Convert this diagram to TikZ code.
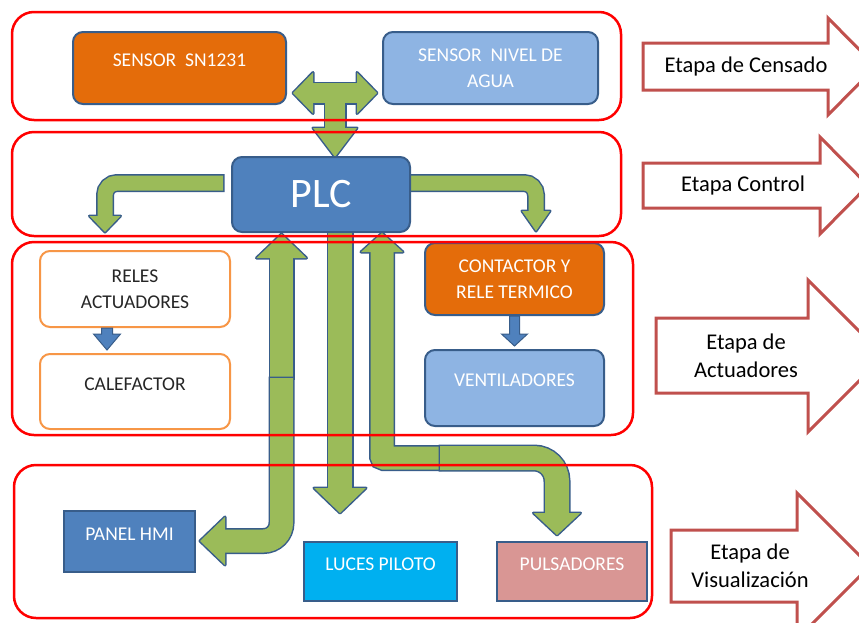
\documentclass[tikz,border=0pt]{standalone}
\usepackage{fontspec}
\setmainfont{Carlito}
\usepackage{tikz}
\usetikzlibrary{positioning, calc}
\definecolor{rojomarco}{RGB}{255,0,0}
\definecolor{rojoetapa}{RGB}{192,80,77}
\definecolor{azulborde}{RGB}{56,93,138}
\definecolor{azulplc}{RGB}{79,129,189}
\definecolor{azulclaro}{RGB}{142,180,227}
\definecolor{naranja}{RGB}{228,108,10}
\definecolor{naranjaclaro}{RGB}{247,150,70}
\definecolor{celeste}{RGB}{0,176,240}
\definecolor{rosa}{RGB}{217,150,148}
\definecolor{verde}{RGB}{155,187,89}

\begin{document}
\begin{tikzpicture}[x=1pt, y=-1pt,
  caja/.style={rectangle, rounded corners=10pt, draw=azulborde, line width=2pt, align=center, text=white, inner sep=0pt, font=\fontsize{19.5}{25.5}\selectfont},
  unalinea/.style={text height=13pt, text depth=16pt},
  cuadro/.style={caja, rounded corners=0pt},
  blanca/.style={caja, draw=naranjaclaro, fill=white, text=black!85},
  marco/.style={draw=rojomarco, line width=2.5pt, rounded corners=22pt},
  etapa/.style={draw=rojoetapa, fill=white, line width=3pt},
  etapatxt/.style={align=center, font=\fontsize{22.5}{28.5}\selectfont},
  fondo/.style={draw=azulborde, line width=#1pt+3pt, shorten <=-1.5pt},
  frente/.style={draw=verde, line width=#1pt},
  fondo-cabeza/.style={fill=azulborde, draw=azulborde, line width=3pt, line join=round},
  frente-cabeza/.style={fill=verde},
  flechaazul/.style={fill=azulplc, draw=azulborde, line width=1pt}
]
\fill[white] (0,0) rectangle (859,622);
\clip (0,0) rectangle (859,622);

% puntos de las flechas verdes
\coordinate (tIzq) at (293,93);
\coordinate (tDer) at (377,93);
\coordinate (tCruce) at (335,93);
\coordinate (tPunta) at (335,157);
\coordinate (bIni) at (223,183);
\coordinate (bPunta) at (105,232);
\coordinate (cIni) at (411,183);
\coordinate (cPunta) at (536,231);
\coordinate (eIni) at (340,225);
\coordinate (ePunta) at (340,513);
\coordinate (dCorte) at (281.5,378);
\coordinate (dArriba) at (281.5,234);
\coordinate (dPunta) at (200,541);
\coordinate (fCorte) at (440,458);
\coordinate (fArriba) at (382,233);
\coordinate (fPunta) at (557,535);

% flechas verdes: primero el borde, luego el relleno
\foreach \capa in {fondo,frente} {
  \draw[\capa=20] ([xshift=20pt]tIzq) -- ([xshift=-20pt]tDer);
  \draw[\capa=20] (tCruce) -- ([yshift=29pt]tPunta);
  \path[\capa-cabeza] (tIzq) -- ++(20,-20.5) -- ++(0,41) -- cycle;
  \path[\capa-cabeza] (tDer) -- ++(-20,-20.5) -- ++(0,41) -- cycle;
  \path[\capa-cabeza] (tPunta) -- ++(-22,-29) -- ++(44,0) -- cycle;
  \draw[\capa=15, rounded corners=12pt] (bIni) -- (bPunta |- bIni) -- ([yshift=16pt]bPunta);
  \path[\capa-cabeza] (bPunta) -- ++(-15.5,-16) -- ++(31,0) -- cycle;
  \draw[\capa=15, rounded corners=12pt] (cIni) -- (cPunta |- cIni) -- ([yshift=20pt]cPunta);
  \path[\capa-cabeza] (cPunta) -- ++(-14,-20) -- ++(28,0) -- cycle;
  \draw[\capa=24] (eIni) -- ([yshift=25pt]ePunta);
  \path[\capa-cabeza] (ePunta) -- ++(-26,-25) -- ++(52,0) -- cycle;
  \draw[\capa=23] (dCorte) -- ([yshift=-24pt]dArriba);
  \path[\capa-cabeza] (dArriba) -- ++(-25,24) -- ++(50,0) -- cycle;
  \draw[\capa=23, rounded corners=2pt] (fCorte) -- (fArriba |- fCorte) -- ([yshift=-19pt]fArriba);
  \path[\capa-cabeza] (fArriba) -- ++(-21,19) -- ++(42,0) -- cycle;
}
\foreach \capa in {fondo,frente} {
  \draw[\capa=23, rounded corners=18pt] (dCorte) -- (dCorte |- dPunta) -- ([xshift=25pt]dPunta);
  \path[\capa-cabeza] (dPunta) -- ++(25,-24) -- ++(0,48) -- cycle;
  \draw[\capa=24, rounded corners=23pt] (fCorte) -- (fPunta |- fCorte) -- ([yshift=22pt]fPunta);
  \path[\capa-cabeza] (fPunta) -- ++(-23.5,-22) -- ++(47,0) -- cycle;
}

% bloques
\node[caja, fill=naranja, unalinea, minimum width=213pt, minimum height=72pt] (sn) at (179.5,68) {SENSOR\ \ SN1231};
\node[caja, fill=azulclaro, minimum width=215pt, minimum height=72pt] (nivel) at (490.5,68) {SENSOR\ \ NIVEL DE\\AGUA};
\node[caja, fill=azulplc, minimum width=178pt, minimum height=75pt, font=\fontsize{42}{48}\selectfont] (plc) at (321,194.5) {PLC};
\node[blanca, minimum width=190pt, minimum height=76pt] (reles) at (135,289) {RELES\\ACTUADORES};
\node[blanca, unalinea, minimum width=190pt, minimum height=75pt, below=25pt of reles] (calef) {CALEFACTOR};
\node[caja, fill=naranja, minimum width=179pt, minimum height=72pt] (contactor) at (514.5,279) {CONTACTOR Y\\RELE TERMICO};
\node[caja, fill=azulclaro, unalinea, minimum width=179pt, minimum height=76pt, below=33pt of contactor] (vent) {VENTILADORES};
\node[cuadro, fill=azulplc, unalinea, minimum width=131pt, minimum height=61pt] (hmi) at (129.5,541.5) {PANEL HMI};
\node[cuadro, fill=celeste, unalinea, minimum width=153pt, minimum height=59pt] (luces) at (380.5,571.5) {LUCES PILOTO};
\node[cuadro, fill=rosa, unalinea, minimum width=150pt, minimum height=59pt, right=38pt of luces] (puls) {PULSADORES};

% flechas azules
\coordinate (g1) at ([xshift=-28pt]reles.south);
\coordinate (g2) at ([xshift=-28pt, yshift=3pt]calef.north);
\filldraw[flechaazul] ($(g1)+(-5.5,0)$) -- ($(g2)+(-5.5,-16)$) -- ($(g2)+(-13.5,-16)$) -- (g2) -- ($(g2)+(13.5,-16)$) -- ($(g2)+(5.5,-16)$) -- ($(g1)+(5.5,0)$) -- cycle;
\coordinate (h1) at (contactor.south);
\coordinate (h2) at ([yshift=3pt]vent.north);
\filldraw[flechaazul] ($(h1)+(-5,0)$) -- ($(h2)+(-5,-12)$) -- ($(h2)+(-13,-12)$) -- (h2) -- ($(h2)+(13,-12)$) -- ($(h2)+(5,-12)$) -- ($(h1)+(5,0)$) -- cycle;

% etapas
\draw[etapa] (643,43) -- (828,43) -- (828,18) -- (876,66.5) -- (828,115) -- (828,90) -- (643,90) -- cycle;
\node[etapatxt] (etapa1) at (746,66.5) {Etapa de Censado};
\draw[etapa] (643,163) -- (820,163) -- (820,137) -- (868,185.5) -- (820,234) -- (820,208) -- (643,208) -- cycle;
\node[etapatxt] (etapa2) at (743,185) {Etapa Control};
\draw[etapa] (656,318) -- (808,318) -- (808,280) -- (884,356) -- (808,432) -- (808,393) -- (656,393) -- cycle;
\node[etapatxt] (etapa3) at (746,356) {Etapa de\\Actuadores};
\draw[etapa] (671,530) -- (797,530) -- (797,493) -- (870,566) -- (797,639) -- (797,602) -- (671,602) -- cycle;
\node[etapatxt] (etapa4) at (750,566) {Etapa de\\Visualización};

% marcos
\draw[marco] (12,12) rectangle (621,120);
\draw[marco] (12,132) rectangle (621,236);
\draw[marco] (12,242) rectangle (633,435);
\draw[marco] (14,465) rectangle (652,618);
\end{tikzpicture}
\end{document}
